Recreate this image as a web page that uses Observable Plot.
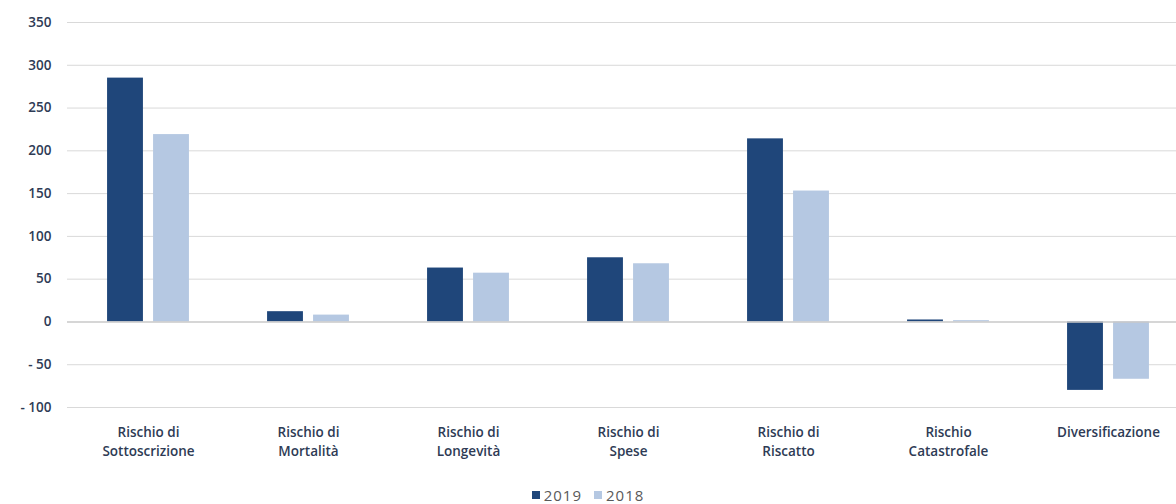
<!DOCTYPE html>
<html>
<head>
<meta charset="utf-8">
<script src="https://cdn.jsdelivr.net/npm/d3@7"></script>
<script src="https://cdn.jsdelivr.net/npm/@observablehq/plot@0.6"></script>
<style>
  html, body { margin: 0; padding: 0; background: #fff; overflow: hidden; }
  #chart { width: 1176px; }
  .legend { height: 29px; display: flex; justify-content: center; align-items: center; gap: 12px;
    font-family: "Open Sans", "Liberation Sans", Arial, sans-serif; font-size: 15px; letter-spacing: 1px; color: #595959; padding-top: 11px; box-sizing: border-box; }
  .legend span.item { display: inline-flex; align-items: center; gap: 4px; }
  .legend i { display: inline-block; width: 8px; height: 8px; }
</style>
</head>
<body>
<div id="chart"></div>
<script>
const categories = ["Sottoscrizione", "Mortalità", "Longevità", "Spese", "Riscatto", "Catastrofale", "Diversificazione"];
const categoryLabels = ["Rischio di\nSottoscrizione", "Rischio di\nMortalità", "Rischio di\nLongevità", "Rischio di\nSpese", "Rischio di\nRiscatto", "Rischio\nCatastrofale", "Diversificazione"];
const values2019 = [285, 12, 63, 75, 214, 2.3, -80];
const values2018 = [219, 8, 57, 68, 153, 1.5, -67];
const yTicks = [-100, -50, 0, 50, 100, 150, 200, 250, 300, 350];
const seriesNames = ["2019", "2018"];
const seriesColors = ["#1f467a", "#b5c8e2"];

const data = categories.map((c, i) => ({cat: c, v2019: values2019[i], v2018: values2018[i]}));
const labelOf = new Map(categories.map((c, i) => [c, categoryLabels[i]]));

const bw = (1188 - 67) / categories.length;
const barW = 36;
const inset = (bw - barW) / 2;

const chart = Plot.plot({
  width: 1176,
  height: 475,
  marginLeft: 67,
  marginRight: 0,
  marginTop: 22,
  marginBottom: 68,
  style: {fontFamily: "'Open Sans', 'Liberation Sans', Arial, sans-serif", fontSize: "13.5px", fontWeight: 600, color: "#2e3b55", background: "#fff"},
  x: {domain: categories, range: [67, 1188], padding: 0},
  y: {domain: [-100, 350]},
  marks: [
    Plot.ruleY(yTicks.filter(d => d !== 0), {stroke: "#d9d9d9", strokeWidth: 1}),
    Plot.barY(data, {x: "cat", y: "v2019", fill: seriesColors[0], dx: -23, insetLeft: inset, insetRight: inset}),
    Plot.barY(data, {x: "cat", y: "v2018", fill: seriesColors[1], dx: 23, insetLeft: inset, insetRight: inset}),
    Plot.ruleY([0], {stroke: "#c8c8c8", strokeWidth: 1.5}),
    Plot.axisY({ticks: yTicks, tickSize: 0, tickPadding: 16, label: null,
      tickFormat: d => d < 0 ? "- " + Math.abs(d) : String(d)}),
    Plot.axisX({tickSize: 0, tickPadding: 16, label: null, lineHeight: 1.4,
      tickFormat: d => labelOf.get(d)})
  ]
});
document.getElementById("chart").appendChild(chart);

const legend = document.createElement("div");
legend.className = "legend";
seriesNames.forEach((name, i) => {
  const item = document.createElement("span");
  item.className = "item";
  const sw = document.createElement("i");
  sw.style.background = seriesColors[i];
  item.appendChild(sw);
  item.appendChild(document.createTextNode(name));
  legend.appendChild(item);
});
document.getElementById("chart").appendChild(legend);
</script>
</body>
</html>
